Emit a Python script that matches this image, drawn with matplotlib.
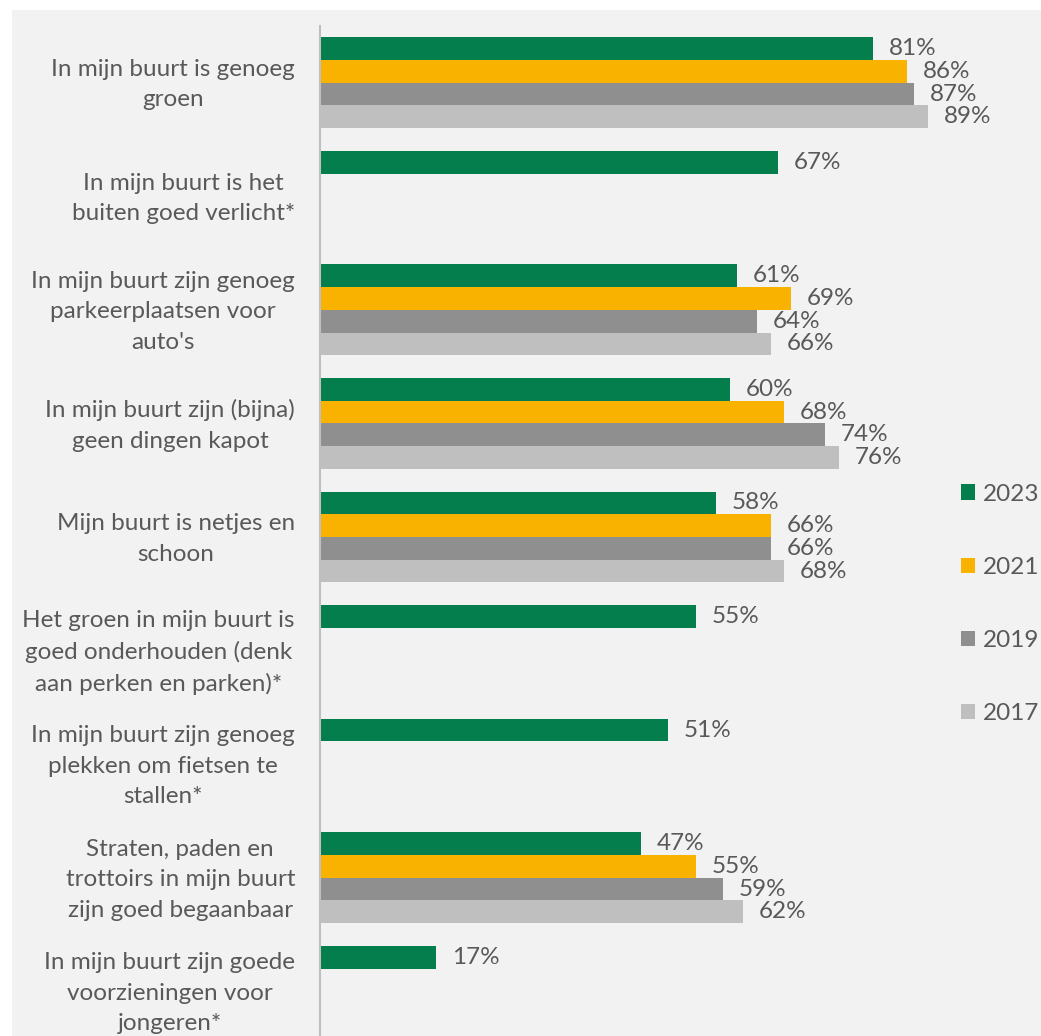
import matplotlib

matplotlib.use("Agg")
import matplotlib.pyplot as plt
import matplotlib.transforms as mtransforms
import numpy as np
from matplotlib.patches import Patch, Rectangle

CATEGORIES = [
    "In mijn buurt is genoeg\ngroen",
    "In mijn buurt is het\nbuiten goed verlicht*",
    "In mijn buurt zijn genoeg\nparkeerplaatsen voor\nauto's",
    "In mijn buurt zijn (bijna)\ngeen dingen kapot",
    "Mijn buurt is netjes en\nschoon",
    "Het groen in mijn buurt is\ngoed onderhouden (denk\naan perken en parken)*",
    "In mijn buurt zijn genoeg\nplekken om fietsen te\nstallen*",
    "Straten, paden en\ntrottoirs in mijn buurt\nzijn goed begaanbaar",
    "In mijn buurt zijn goede\nvoorzieningen voor\njongeren*",
]
YEARS = ["2023", "2021", "2019", "2017"]
V2023 = [81, 67, 61, 60, 58, 55, 51, 47, 17]
V2021 = [86, None, 69, 68, 66, None, None, 55, None]
V2019 = [87, None, 64, 74, 66, None, None, 59, None]
V2017 = [89, None, 66, 76, 68, None, None, 62, None]

COLORS = ["#057E4E", "#F9B200", "#8F8F8F", "#BFBFBF"]
TEXT = "#595959"
FS = 17.5

plt.rcParams["font.family"] = ["Lato", "DejaVu Sans"]

W, H = 1041, 1036
fig = plt.figure(figsize=(W / 100, H / 100), dpi=100)
fig.patch.set_facecolor("white")
fig.patches.append(
    Rectangle((12 / W, 0), 1, 1 - 10 / H, transform=fig.transFigure,
              facecolor="#F2F2F2", edgecolor="none", zorder=-10)
)

left, right = 320 / W, 1003 / W
top = 1 - 26 / H
height = 1022 / H
ax = fig.add_axes([left, top - height, right - left, height])
ax.set_facecolor("none")
ax.set_zorder(1)

y = np.arange(len(CATEGORIES))
bar_h = 0.2
for k, (vals, color) in enumerate(zip([V2023, V2021, V2019, V2017], COLORS)):
    offs = (k - 1.5) * bar_h
    for i, v in enumerate(vals):
        if v is None:
            continue
        ax.barh(y[i] + offs, v, height=bar_h, color=color, edgecolor="none")
        ax.text(v + 2.3, y[i] + offs, f"{v}%", va="center", ha="left",
                fontsize=FS, color=TEXT)

ax.set_xlim(0, 100)
ax.set_ylim(len(CATEGORIES) - 0.5, -0.5)
ax.set_xticks([])
ax.set_yticks([])

# category labels: right edge 25 px left of the axis
label_tr = mtransforms.offset_copy(ax.get_yaxis_transform(), fig=fig,
                                   x=-25, y=-2, units="dots")
for yi, cat in zip(y, CATEGORIES):
    ax.text(0, yi, cat, transform=label_tr, ha="right", va="center",
            multialignment="center", fontsize=FS, color=TEXT,
            linespacing=1.55, clip_on=False)

for side in ("top", "right", "bottom"):
    ax.spines[side].set_visible(False)
ax.spines["left"].set_color("#BFBFBF")
ax.spines["left"].set_linewidth(1.5)

handles = [Patch(facecolor=c, edgecolor="none") for c in COLORS]
leg = fig.legend(handles, YEARS, loc="center left",
                 bbox_to_anchor=(961 / W, 1 - 604 / H), frameon=False,
                 fontsize=FS, labelspacing=2.15, handlelength=0.58,
                 handleheight=0.58, handletextpad=0.33, borderpad=0,
                 borderaxespad=0)
leg.set_zorder(2)
for t in leg.get_texts():
    t.set_color(TEXT)

fig.savefig("out.png", dpi=100)
